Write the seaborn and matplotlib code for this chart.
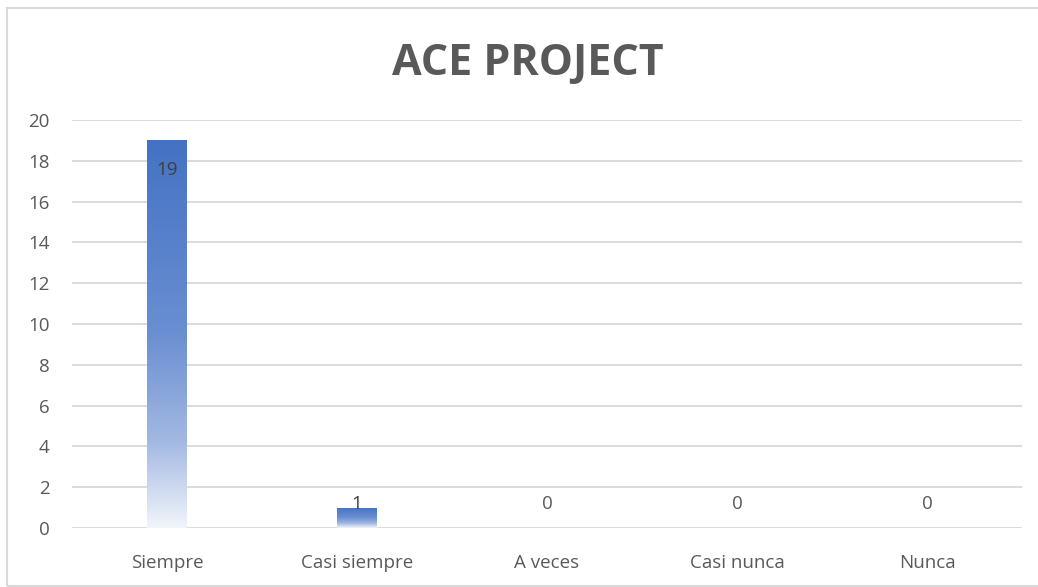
import numpy as np
import pandas as pd
import matplotlib
matplotlib.use("Agg")
import matplotlib.pyplot as plt
import seaborn as sns
from matplotlib.colors import LinearSegmentedColormap
from matplotlib.patches import Rectangle

categories = ["Siempre", "Casi siempre", "A veces", "Casi nunca", "Nunca"]
values = [19, 1, 0, 0, 0]
yticks = [0, 2, 4, 6, 8, 10, 12, 14, 16, 18, 20]
title = "ACE PROJECT"

sns.set_theme(style="white")
plt.rcParams["font.family"] = ["Open Sans", "DejaVu Sans"]

W, H = 1038, 587
fig = plt.figure(figsize=(W / 100, H / 100), dpi=100)
ax = fig.add_axes([72 / W, 1 - 528 / H, (1022 - 72) / W, (528 - 120) / H])

df = pd.DataFrame({"cat": categories, "val": values})
sns.barplot(data=df, x="cat", y="val", ax=ax, width=0.21, color="#4472C4",
            saturation=1, linewidth=0)

ax.set_ylim(0, 20)
ax.set_xlim(-0.5, len(categories) - 0.5)
ax.set_yticks(yticks)
ax.set_yticklabels([str(t) for t in yticks])
ax.grid(axis="y", color="#d9d9d9", linewidth=1.3)
ax.set_axisbelow(True)
for s in ax.spines.values():
    s.set_visible(False)
ax.set_xlabel("")
ax.set_ylabel("")
ax.tick_params(axis="y", length=0, pad=16, labelsize=13.5, labelcolor="#595959")
ax.tick_params(axis="x", length=0, pad=19, labelsize=13.5, labelcolor="#595959")

# gradient fill per bar
cmap = LinearSegmentedColormap.from_list(
    "grad", [(0.0, "#f2f5fb"), (0.22, "#a3b9e2"), (0.5, "#6a8fd2"), (1.0, "#4472C4")])
grad = np.linspace(0, 1, 256).reshape(-1, 1)
for p in ax.patches:
    h = p.get_height()
    if h <= 0:
        continue
    x0 = p.get_x()
    w = p.get_width()
    p.set_facecolor("none")
    im = ax.imshow(grad, cmap=cmap, aspect="auto", origin="lower",
                   extent=(x0, x0 + w, 0, h), zorder=2)
    im.set_clip_path(p)

ax.set_xlim(-0.5, len(categories) - 0.5)
ax.set_ylim(0, 20)

for i, v in enumerate(values):
    ly = max(v - 1.45, 1.2)
    ax.text(i, ly, str(v), ha="center", va="center", fontsize=13.5,
            color="#404040" if v > 0 else "#595959", zorder=3)

fig.text((390 + 665) / 2 / W, 1 - 63 / H, title, ha="center", va="center",
         fontsize=31, fontweight="bold", color="#595959")

fig.patches.append(Rectangle((7 / W, 1 - 586 / H), 1.1, (586 - 8) / H,
                             transform=fig.transFigure, fill=False,
                             edgecolor="#d9d9d9", linewidth=1.5))

fig.savefig("out.png", dpi=100)
